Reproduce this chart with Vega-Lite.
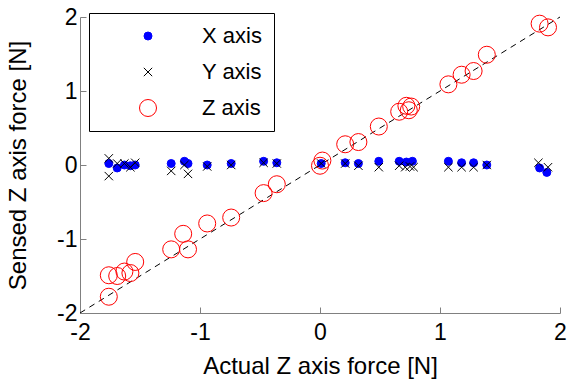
{
  "$schema": "https://vega.github.io/schema/vega-lite/v6.json",
  "width": 480,
  "height": 296,
  "autosize": "none",
  "padding": {"left": 80, "top": 17, "right": 8, "bottom": 70},
  "background": "white",
  "config": {
    "font": "Liberation Sans",
    "view": {"stroke": null},
    "axis": {
      "domainColor": "#808080",
      "tickColor": "#808080",
      "tickSize": -6,
      "grid": false,
      "labelFontSize": 23,
      "titleFontSize": 24,
      "titleFontWeight": "normal",
      "labelColor": "black",
      "titleColor": "black",
      "labelFont": "Liberation Sans",
      "titleFont": "Liberation Sans",
      "labelFlush": false,
      "labelExpr": "'' + datum.value"
    }
  },
  "datasets": {
    "diag": [{"actual": -2, "sensed": -2}, {"actual": 2, "sensed": 2}],
    "pts": [
      {"series": "X axis", "actual": -1.76, "sensed": 0.02},
      {"series": "X axis", "actual": -1.69, "sensed": -0.04},
      {"series": "X axis", "actual": -1.63, "sensed": 0.0},
      {"series": "X axis", "actual": -1.58, "sensed": -0.01},
      {"series": "X axis", "actual": -1.54, "sensed": 0.0},
      {"series": "X axis", "actual": -1.24, "sensed": 0.02},
      {"series": "X axis", "actual": -1.13, "sensed": 0.05},
      {"series": "X axis", "actual": -1.1, "sensed": 0.02},
      {"series": "X axis", "actual": -0.94, "sensed": 0.0},
      {"series": "X axis", "actual": -0.74, "sensed": 0.02},
      {"series": "X axis", "actual": -0.47, "sensed": 0.05},
      {"series": "X axis", "actual": -0.36, "sensed": 0.03},
      {"series": "X axis", "actual": 0.01, "sensed": 0.02},
      {"series": "X axis", "actual": 0.21, "sensed": 0.03},
      {"series": "X axis", "actual": 0.32, "sensed": 0.02},
      {"series": "X axis", "actual": 0.49, "sensed": 0.05},
      {"series": "X axis", "actual": 0.66, "sensed": 0.05},
      {"series": "X axis", "actual": 0.72, "sensed": 0.04},
      {"series": "X axis", "actual": 0.77, "sensed": 0.05},
      {"series": "X axis", "actual": 1.07, "sensed": 0.05},
      {"series": "X axis", "actual": 1.18, "sensed": 0.03},
      {"series": "X axis", "actual": 1.28, "sensed": 0.03},
      {"series": "X axis", "actual": 1.39, "sensed": 0.0},
      {"series": "X axis", "actual": 1.83, "sensed": -0.04},
      {"series": "X axis", "actual": 1.89, "sensed": -0.1},
      {"series": "Y axis", "actual": -1.76, "sensed": 0.09},
      {"series": "Y axis", "actual": -1.76, "sensed": -0.15},
      {"series": "Y axis", "actual": -1.69, "sensed": 0.02},
      {"series": "Y axis", "actual": -1.63, "sensed": 0.02},
      {"series": "Y axis", "actual": -1.58, "sensed": -0.03},
      {"series": "Y axis", "actual": -1.54, "sensed": 0.03},
      {"series": "Y axis", "actual": -1.24, "sensed": -0.08},
      {"series": "Y axis", "actual": -1.13, "sensed": 0.0},
      {"series": "Y axis", "actual": -1.1, "sensed": -0.12},
      {"series": "Y axis", "actual": -0.94, "sensed": -0.02},
      {"series": "Y axis", "actual": -0.74, "sensed": 0.0},
      {"series": "Y axis", "actual": -0.47, "sensed": 0.03},
      {"series": "Y axis", "actual": -0.36, "sensed": 0.02},
      {"series": "Y axis", "actual": 0.01, "sensed": 0.02},
      {"series": "Y axis", "actual": 0.21, "sensed": 0.02},
      {"series": "Y axis", "actual": 0.32, "sensed": -0.01},
      {"series": "Y axis", "actual": 0.49, "sensed": -0.03},
      {"series": "Y axis", "actual": 0.66, "sensed": -0.01},
      {"series": "Y axis", "actual": 0.71, "sensed": -0.03},
      {"series": "Y axis", "actual": 0.75, "sensed": -0.02},
      {"series": "Y axis", "actual": 0.78, "sensed": -0.03},
      {"series": "Y axis", "actual": 1.07, "sensed": -0.03},
      {"series": "Y axis", "actual": 1.18, "sensed": -0.03},
      {"series": "Y axis", "actual": 1.28, "sensed": -0.03},
      {"series": "Y axis", "actual": 1.39, "sensed": 0.0},
      {"series": "Y axis", "actual": 1.82, "sensed": 0.03},
      {"series": "Y axis", "actual": 1.9, "sensed": -0.03},
      {"series": "Z axis", "actual": -1.76, "sensed": -1.78},
      {"series": "Z axis", "actual": -1.76, "sensed": -1.49},
      {"series": "Z axis", "actual": -1.69, "sensed": -1.5},
      {"series": "Z axis", "actual": -1.63, "sensed": -1.44},
      {"series": "Z axis", "actual": -1.58, "sensed": -1.46},
      {"series": "Z axis", "actual": -1.54, "sensed": -1.31},
      {"series": "Z axis", "actual": -1.24, "sensed": -1.14},
      {"series": "Z axis", "actual": -1.14, "sensed": -0.93},
      {"series": "Z axis", "actual": -1.1, "sensed": -1.14},
      {"series": "Z axis", "actual": -0.94, "sensed": -0.79},
      {"series": "Z axis", "actual": -0.74, "sensed": -0.71},
      {"series": "Z axis", "actual": -0.47, "sensed": -0.38},
      {"series": "Z axis", "actual": -0.36, "sensed": -0.26},
      {"series": "Z axis", "actual": 0.02, "sensed": 0.06},
      {"series": "Z axis", "actual": 0.0, "sensed": -0.01},
      {"series": "Z axis", "actual": 0.21, "sensed": 0.28},
      {"series": "Z axis", "actual": 0.32, "sensed": 0.31},
      {"series": "Z axis", "actual": 0.49, "sensed": 0.52},
      {"series": "Z axis", "actual": 0.66, "sensed": 0.72},
      {"series": "Z axis", "actual": 0.72, "sensed": 0.8},
      {"series": "Z axis", "actual": 0.76, "sensed": 0.79},
      {"series": "Z axis", "actual": 0.74, "sensed": 0.74},
      {"series": "Z axis", "actual": 1.07, "sensed": 1.09},
      {"series": "Z axis", "actual": 1.18, "sensed": 1.22},
      {"series": "Z axis", "actual": 1.28, "sensed": 1.27},
      {"series": "Z axis", "actual": 1.39, "sensed": 1.49},
      {"series": "Z axis", "actual": 1.83, "sensed": 1.91},
      {"series": "Z axis", "actual": 1.9, "sensed": 1.86}
    ]
  },
  "encoding": {
    "x": {
      "field": "actual", "type": "quantitative",
      "scale": {"domain": [-2, 2], "nice": false},
      "axis": {"values": [-2, -1, 0, 1, 2], "title": "Actual Z axis force [N]", "labelPadding": 14, "titlePadding": 10}
    },
    "y": {
      "field": "sensed", "type": "quantitative",
      "scale": {"domain": [-2, 2], "nice": false},
      "axis": {"values": [-2, -1, 0, 1, 2], "title": "Sensed Z axis force [N]", "labelPadding": 9, "titlePadding": 26}
    }
  },
  "layer": [
    {
      "data": {"name": "diag"},
      "mark": {"type": "line", "color": "black", "strokeWidth": 1, "strokeDash": [6, 5]},
      "encoding": {}
    },
    {
      "data": {"name": "pts"},
      "mark": {"type": "point", "strokeWidth": 1, "opacity": 1},
      "encoding": {
        "fill": {
          "field": "series", "type": "nominal",
          "scale": {"domain": ["X axis", "Y axis", "Z axis"], "range": ["#0000ff", "transparent", "transparent"]},
          "legend": {
            "orient": "none", "legendX": 9, "legendY": -4, "title": null,
            "padding": 12, "strokeColor": "black", "fillColor": "white",
            "labelFontSize": 22, "labelFont": "Liberation Sans", "labelColor": "black",
            "symbolOffset": 36, "labelOffset": 43, "rowPadding": 14, "symbolStrokeWidth": 1,
            "labelLimit": 300
          }
        },
        "stroke": {
          "field": "series", "type": "nominal",
          "scale": {"domain": ["X axis", "Y axis", "Z axis"], "range": ["#0000ff", "black", "#ff0000"]}
        },
        "shape": {
          "field": "series", "type": "nominal",
          "scale": {"domain": ["X axis", "Y axis", "Z axis"], "range": ["circle", "M-1,-1L1,1M-1,1L1,-1", "circle"]}
        },
        "size": {
          "field": "series", "type": "nominal",
          "scale": {"type": "ordinal", "domain": ["X axis", "Y axis", "Z axis"], "range": [64, 70, 289]}
        }
      }
    }
  ]
}
